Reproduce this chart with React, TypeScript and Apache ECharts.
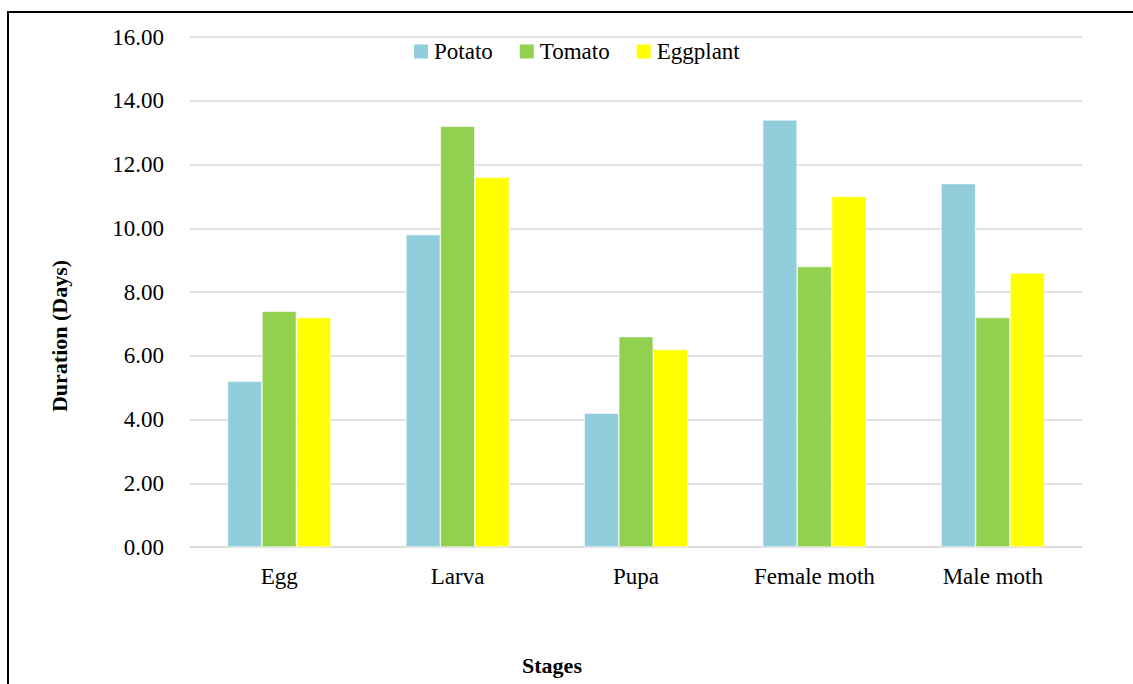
import React, { useEffect, useRef } from "react";
import * as echarts from "echarts";

const categories = ["Egg", "Larva", "Pupa", "Female moth", "Male moth"];
const potato = [5.2, 9.8, 4.2, 13.4, 11.4];
const tomato = [7.4, 13.2, 6.6, 8.8, 7.2];
const eggplant = [7.2, 11.6, 6.2, 11.0, 8.6];
const seriesNames = ["Potato", "Tomato", "Eggplant"];
const colors = ["#92CDDC", "#92D050", "#FFFF00"];

const FONT = "Liberation Serif";

export default function App() {
  const ref = useRef<HTMLDivElement>(null);
  useEffect(() => {
    if (!ref.current) return;
    const chart = echarts.init(ref.current, null, { renderer: "svg" });
    const data = [potato, tomato, eggplant];
    chart.setOption({
      animation: false,
      backgroundColor: "#ffffff",
      textStyle: { fontFamily: FONT },
      grid: { left: 190, right: 51, top: 37, bottom: 137, containLabel: false },
      legend: {
        data: seriesNames,
        left: 407,
        top: 35,
        itemWidth: 16,
        itemHeight: 16,
        itemGap: 25,
        icon: "rect",
        textStyle: { fontFamily: FONT, fontSize: 23, color: "#000" },
      },
      xAxis: {
        type: "category",
        data: categories,
        axisLine: { show: true, lineStyle: { color: "#D9D9D9", width: 1.5 } },
        axisTick: { show: false },
        axisLabel: { fontFamily: FONT, fontSize: 23, color: "#000", margin: 18 },
      },
      yAxis: {
        type: "value",
        min: 0,
        max: 16,
        interval: 2,
        axisLine: { show: false },
        axisTick: { show: false },
        splitLine: { lineStyle: { color: "#D9D9D9", width: 1.5 } },
        axisLabel: {
          fontFamily: FONT,
          fontSize: 23,
          color: "#000",
          margin: 26,
          formatter: (v: number) => v.toFixed(2),
        },
      },
      series: seriesNames.map((name, i) => ({
        name,
        type: "bar",
        data: data[i],
        barGap: "0%",
        barCategoryGap: "42%",
        itemStyle: { color: colors[i], borderColor: "#ffffff", borderWidth: 0.6 },
      })),
      graphic: [
        {
          type: "rect",
          shape: { x: 8, y: 12, width: 1300, height: 900 },
          style: { fill: "none", stroke: "#000", lineWidth: 2 },
          silent: true,
        },
        {
          type: "text",
          x: 59,
          y: 336,
          rotation: Math.PI / 2,
          style: {
            text: "Duration (Days)",
            fontFamily: FONT,
            fontSize: 22,
            fontWeight: "bold",
            fill: "#000",
            align: "center",
            verticalAlign: "middle",
          },
        },
        {
          type: "text",
          x: 552,
          y: 665,
          style: {
            text: "Stages",
            fontFamily: FONT,
            fontSize: 22,
            fontWeight: "bold",
            fill: "#000",
            align: "center",
            verticalAlign: "middle",
          },
        },
      ],
    });
    return () => chart.dispose();
  }, []);
  return (
    <div
      ref={ref}
      style={{ position: "fixed", left: 0, top: 0, width: 1133, height: 684 }}
    />
  );
}
